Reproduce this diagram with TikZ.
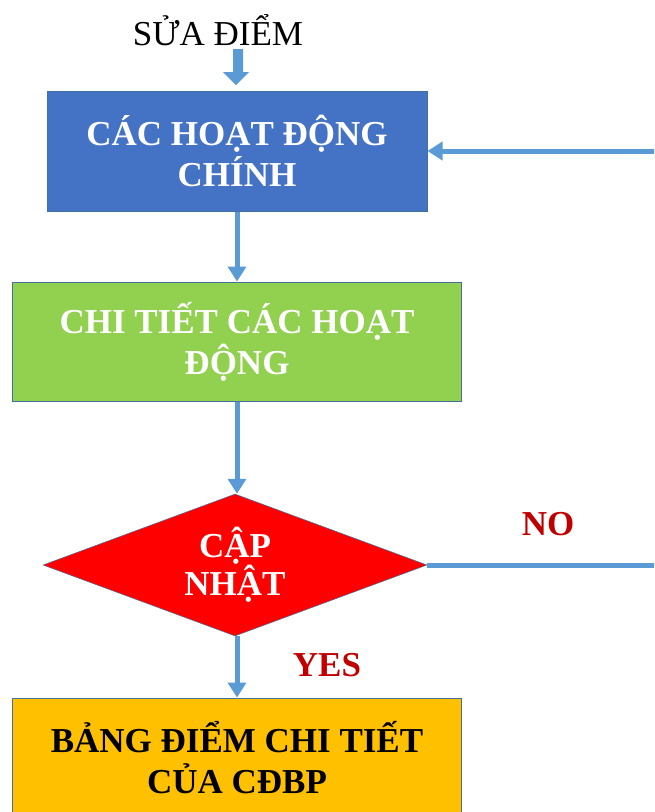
\documentclass[tikz,border=0pt]{standalone}
\usepackage{fontspec}
\setmainfont{Liberation Serif}
\usetikzlibrary{shapes.geometric,arrows.meta}
\definecolor{boxblue}{HTML}{4472C4}
\definecolor{boxgreen}{HTML}{92D050}
\definecolor{boxgold}{HTML}{FFC000}
\definecolor{boxred}{HTML}{FF0000}
\definecolor{linkblue}{HTML}{5B9BD5}
\definecolor{edgeblue}{HTML}{41719C}
\definecolor{labred}{HTML}{C00000}
\tikzset{
  box/.style={rectangle, draw=edgeblue, line width=1pt, align=center, inner sep=0pt,
    font=\fontsize{35}{41}\selectfont\bfseries},
  link/.style={draw=linkblue, line width=5pt, -{Triangle[width=18pt,length=15pt]}},
  lab/.style={text=labred, font=\fontsize{35}{36}\selectfont\bfseries}
}
\begin{document}
\begin{tikzpicture}[x=1pt,y=-1pt]
\useasboundingbox (0,0) rectangle (654,812);
\clip (0,0) rectangle (654,812);
\node (title) at (218,30) {\fontsize{35}{36}\selectfont SỬA ĐIỂM};
\fill[linkblue] (233,49) -- (243,49) -- (243,72) -- (249,72) -- (236,85) -- (223,72) -- (233,72) -- cycle;
\node[box, fill=boxblue, text=white, minimum width=380pt, minimum height=120pt] (main) at (237,151) {CÁC HOẠT ĐỘNG\\CHÍNH};
\node[box, fill=boxgreen, text=white, minimum width=449pt, minimum height=119pt] (detail) at (237,341.5) {CHI TIẾT CÁC HOẠT\\ĐỘNG};
\node[diamond, fill=boxred, draw=edgeblue, line width=0.5pt, inner sep=0pt, aspect=2.7, minimum width=384pt, minimum height=142pt, text=white, align=center, font=\fontsize{35}{38}\selectfont\bfseries] (upd) at (235,565) {CẬP\\NHẬT};
\node[box, fill=boxgold, text=black, minimum width=449pt, minimum height=119pt] (table) at (237,757.5) {BẢNG ĐIỂM CHI TIẾT\\CỦA CĐBP};
\node[lab] (no) at (548,524) {NO};
\node[lab] (yes) at (327,665) {YES};
\coordinate (far) at (700,565);
\draw[link] (main.south) -- (detail.north);
\draw[link] (detail.south) -- (detail.south |- upd.north);
\draw[link] (table.north |- upd.south) -- (table.north);
\draw[link] (upd.east) -- (far) |- (main.east);
\end{tikzpicture}
\end{document}
